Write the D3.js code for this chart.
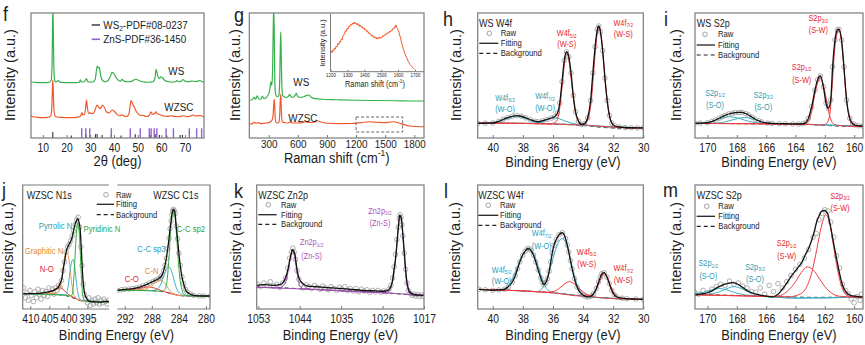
<!DOCTYPE html>
<html><head><meta charset="utf-8">
<script src="https://cdn.jsdelivr.net/npm/d3@7"></script>
<style>html,body{margin:0;padding:0;background:#fff}svg{display:block}</style>
</head><body><svg id="c" width="865" height="345"></svg>
<script>
// ---------------- DATA ----------------
// (f) XRD, x = 2theta (deg), y = intensity (a.u., 0-100 of frame)
const fTicks = [10,20,30,40,50,60,70];
const xrdWS = [[5,45],[7,44.5],[9,44.3],[11,44.3],[12.5,44.5],[13.5,46],[13.9,60],[14.1,90],[14.25,104],[14.4,90],[14.6,60],[15,46],[15.5,44.8],[16.6,46],[17.2,44.6],[18,44.5],[20,44.3],[22,44.3],[24,44.3],[25.4,44.6],[25.8,46.5],[26.3,44.8],[27.5,45],[28.4,47.5],[29,45],[30,44.7],[31,44.8],[32.1,47],[32.6,54],[32.95,57.8],[33.4,56],[33.8,56.5],[34.5,49],[35.5,45.5],[36.5,45],[37.5,46],[38.4,49],[39.2,52.5],[40.2,51],[41,48],[42,46],[42.8,45.5],[43.4,47],[44.2,45.5],[46,45],[47.5,45.3],[48.5,46.5],[49.3,47],[50.5,46],[52,45],[54,44.6],[55.5,44.8],[56.5,45],[57.3,48],[57.8,55],[58.4,50],[59.1,47.5],[59.9,49],[60.6,48],[61.5,46],[63,45],[64.5,44.7],[66,45],[66.6,46],[67.3,45],[68.3,45.3],[69.1,46.8],[70,45.5],[71.5,45],[73,45.6],[74,45.2],[75.5,45.5],[76.3,46],[77.2,45],[78,44.8]];
const xrdWZSC = [[5,17.6],[6,17],[8,16.5],[10,16.3],[12,16.5],[13.3,17.5],[13.8,25],[14.05,40],[14.2,46.4],[14.4,38],[14.7,22],[15.2,17.5],[16,16.8],[18,16.5],[20,16.3],[22,16.3],[24,16.5],[25.5,17],[26.1,18.5],[26.5,20.3],[26.9,18.5],[27.6,19],[28.1,25],[28.4,30.4],[28.8,24],[29.4,19.5],[30,20.3],[30.6,19.5],[31.5,20],[32.3,24],[32.9,26.4],[33.6,24.5],[34.3,23.5],[35.1,26.4],[35.8,25],[36.8,21],[38,20],[39.2,22.4],[40.3,21],[41.5,18.5],[42.5,17.8],[43.4,18.5],[44.3,17.5],[45.5,17.3],[46.3,19],[46.8,25],[47.2,29.9],[47.7,28],[48.5,25],[49.5,21],[50.5,18.8],[51.5,18],[52.3,18.2],[53.5,17.2],[54.5,17.3],[55.1,19],[55.6,21],[56.2,19],[57,19.3],[57.7,21],[58.3,19.5],[59.3,18.8],[60,18.4],[61,17.6],[62.5,17.3],[64,17.8],[65.5,17.3],[67,17],[68.5,17.5],[69.5,17.8],[71,17],[72.5,17.8],[73.5,18.4],[74.5,17.6],[75.5,17.8],[76.5,18],[77.5,17.2],[78,16.8]];
// reference stick patterns [2theta, height]
const pdfWS2 = [[14.2,4.8],[22,2],[28.2,3],[32.2,3],[32.9,3.2],[35,2.4],[38.9,3.2],[43,2],[49,3],[55.3,2.4],[57.4,3.2],[59.2,2.4],[62.3,2],[67.9,2.4],[68.9,2.4]];
const pdfZnS = [[26.4,7.8],[28.1,7.8],[29.8,7.8],[38.9,7.8],[46.9,7.8],[51.1,7.8],[54.9,7.8],[55.7,7.8],[57,7.8],[58.1,7.8],[62,7.8],[65.1,7.8],[71.8,7.8],[74.9,7.8],[77,7.8]];

// (g) Raman, x = Raman shift (cm-1)
const gTicks = [300,600,900,1200,1500,1800];
const ramanWS = [[100,30.4],[130,30.6],[150,32.5],[165,31],[180,33.8],[200,31.2],[220,31],[235,33.5],[250,31.5],[270,32],[290,34],[310,38],[322,45],[332,42],[340,55],[346,85],[351,104],[356,90],[361,55],[367,38],[375,34],[390,33],[405,34],[413,45],[419,70],[424,85],[428,72],[434,45],[444,34],[460,33],[480,32.5],[500,33],[515,35],[530,33],[550,32.5],[570,34],[585,35.7],[600,33],[630,32.5],[660,33],[690,34],[712,34.4],[740,32.5],[780,31.5],[850,31],[1000,30.6],[1200,30.2],[1400,30],[1600,29.8],[1800,29.6],[1900,29.6]];
const ramanWZSC = [[100,11.2],[130,11.5],[150,12.5],[170,11.8],[190,12.3],[220,11.5],[250,11.8],[280,12],[300,12.3],[320,13],[335,14.5],[345,18],[351,26],[357,31],[362,25],[368,15],[375,12.5],[390,12],[405,12.5],[413,18],[419,30],[424,35],[428,28],[434,16],[442,12.8],[470,12.2],[500,12],[520,12.8],[550,12],[600,12],[650,12.3],[680,13],[710,12.5],[760,12.4],[800,13.8],[830,13],[880,12],[950,11.6],[1050,11.5],[1150,11.6],[1250,12.3],[1340,13],[1420,12.6],[1480,12.3],[1540,12.6],[1590,13],[1640,12],[1700,10.5],[1750,9.6],[1820,9.2],[1900,9]];
const insetTicks = [1200,1300,1400,1500,1600,1700];
const ramanInset = [[1200,31.8],[1204,36],[1208,33],[1213,37.5],[1218,35.5],[1223,41],[1228,39],[1233,44],[1238,42.5],[1244,49],[1249,47],[1254,52],[1259,51],[1264,57],[1269,55.5],[1274,62],[1279,64],[1284,67],[1289,71],[1294,70],[1299,75.5],[1304,74],[1309,79],[1314,78],[1319,82],[1324,80.5],[1329,84],[1334,82],[1339,86],[1344,83],[1349,85],[1354,81.5],[1359,84],[1364,80],[1369,82],[1374,78.5],[1379,80.5],[1384,76.5],[1389,78],[1394,74],[1399,76],[1404,72],[1409,73.5],[1414,69.5],[1419,71],[1424,67],[1429,68],[1434,64.5],[1439,65],[1444,61.5],[1449,63],[1454,59.5],[1459,61],[1464,58],[1469,60],[1474,56.5],[1479,59],[1484,57],[1489,60.5],[1494,57.5],[1499,60],[1504,59],[1509,62.5],[1514,61],[1519,64],[1524,63],[1529,66],[1534,65],[1539,68],[1544,66.5],[1549,70],[1554,68.5],[1559,72],[1564,71],[1569,75],[1574,74],[1579,78],[1583,76.5],[1587,81],[1591,77],[1596,75],[1601,71.5],[1606,68],[1611,62],[1616,56],[1621,50],[1626,45],[1631,39],[1636,35],[1641,31],[1646,27],[1651,24],[1656,20],[1661,17.5],[1666,15],[1671,12.5],[1676,11],[1681,9],[1686,7],[1691,5.5],[1696,4]];

// (h) WS W4f, x = binding energy (eV)
const w4fTicks = [40,38,36,34,32,30];
const hFit = [[41,11.7],[40.5,11.8],[40,12],[39.6,13.3],[39.3,15],[39,16.3],[38.7,17.3],[38.4,17.9],[38.1,17.4],[37.8,16.1],[37.5,14.6],[37.2,13.4],[37,13],[36.7,13.8],[36.4,14.9],[36.1,16],[35.9,17],[35.7,20],[35.55,28],[35.4,45],[35.25,62],[35.1,69],[34.95,65],[34.8,52],[34.65,34],[34.5,21],[34.3,13.5],[34.1,10.8],[33.9,11.5],[33.7,16],[33.5,30],[33.35,52],[33.2,73],[33.05,87],[32.95,89.6],[32.85,85],[32.7,70],[32.55,48],[32.4,30],[32.25,18],[32.1,12],[31.9,9.6],[31.6,8.8],[31.2,8.4],[30.8,8.2],[30.4,8.1],[30,8.1]];
const hBg = [[41,12],[39,11.8],[37,11.5],[36,11.2],[35,10.8],[34.5,10.4],[34,10],[33.5,9.5],[33,8.8],[32.5,8.3],[32,8],[31,7.9],[30,7.9]];
const hWS52 = [[41,12],[38,11.7],[36.2,11.3],[35.8,13],[35.6,20],[35.4,40],[35.25,58],[35.1,68],[34.95,63],[34.8,48],[34.65,32],[34.5,20],[34.3,13],[34,10.8],[33,9.5],[31,8.2],[30,8]];
const hWS72 = [[41,12],[36,11.2],[34.2,10.4],[33.8,12.5],[33.6,18],[33.45,30],[33.3,52],[33.15,74],[33.0,87],[32.9,88],[32.75,76],[32.6,56],[32.45,36],[32.3,21],[32.1,12.5],[31.8,9.2],[31,8.1],[30,8]];
const hWO52 = [[41,12],[40.3,12.2],[39.8,12.8],[39.3,14.3],[38.9,16.2],[38.45,17.4],[38.0,16.3],[37.5,14],[37.0,12.3],[36.3,11.5],[35,11],[33,9.6],[30,8]];
const hWO72 = [[41,12],[38,11.8],[37.2,11.8],[36.8,12.6],[36.4,14.5],[36.0,16.3],[35.6,15.5],[35.2,13.6],[34.8,12],[34.4,11],[33.5,9.8],[31,8.2],[30,8]];

// (i) WS S2p
const s2pTicks = [170,168,166,164,162,160];
const iFit = [[170.85,11.7],[170.5,11.9],[170,12.2],[169.7,13.2],[169.46,14.4],[169.2,15.8],[169,17],[168.8,18.1],[168.55,19.2],[168.3,19.9],[168.1,20.3],[167.85,20.5],[167.65,20.5],[167.4,19.6],[167.2,18.4],[166.95,16.6],[166.74,15],[166.5,13.7],[166.3,12.8],[165.9,12],[165.6,11.7],[165.1,11.5],[164.7,11.4],[164.2,11.3],[163.8,11.2],[163.5,11.4],[163.3,12.3],[163.12,15.7],[162.9,25],[162.67,38.4],[162.5,46.5],[162.3,49.6],[162.1,41],[161.92,27.8],[161.76,23.7],[161.6,30.4],[161.47,57],[161.31,78.4],[161.15,86.4],[161.04,87],[160.86,78.4],[160.7,57],[160.52,30.4],[160.3,15.7],[160.1,11.5],[159.95,10.4],[159.7,9.8],[159.4,9.6]];
const iBg = [[170.85,11.7],[168,11.5],[165,11.2],[163.5,11],[162.5,10.4],[161.7,9.9],[161,9.5],[160,9.2],[159.4,9.2]];
const iSW12 = [[170.85,11.7],[165,11.2],[163.5,11],[163.1,13.5],[162.9,21],[162.7,34],[162.5,44],[162.3,48],[162.1,42],[161.9,31],[161.7,19],[161.5,12.5],[161.2,10.2],[160.5,9.5],[159.4,9.2]];
const iSW32 = [[170.85,11.7],[163,10.8],[162.1,10.3],[161.85,12],[161.65,20],[161.5,42],[161.35,68],[161.2,82],[161.05,86],[160.9,80],[160.75,63],[160.6,41],[160.45,24],[160.3,14.5],[160.1,10.5],[159.8,9.5],[159.4,9.2]];
const iSO12 = [[170.85,11.8],[170.5,12],[169.8,13],[169.2,15.2],[168.7,16.7],[168.4,17],[168,16.2],[167.5,14.4],[167,12.8],[166.4,11.8],[165.5,11.4],[163,10.8],[159.4,9.3]];
const iSO32 = [[170.85,11.7],[169.3,12],[168.6,13.5],[168,15.4],[167.5,16.4],[167,15.6],[166.6,14],[166.1,12.3],[165.5,11.5],[163,10.9],[159.4,9.3]];

// (j) WZSC N1s and C1s
const n1sTicks = [410,405,400,395];
const c1sTicks = [292,288,284,280];
const n1sRaw = [[411.8,17],[411.3,9],[410.9,13],[410.5,7],[410.1,15],[409.7,11],[409.2,6],[408.8,14],[408.4,9],[408,16],[407.6,12],[407.2,8],[406.8,15],[406.3,11],[405.9,14],[405.5,10],[405.1,17],[404.6,13],[404.2,16],[403.8,12],[403.4,17],[403,15],[402.6,19],[402.2,18],[401.8,23],[401.4,31],[401,38],[400.6,46],[400.2,50],[399.8,52],[399.4,55],[399,59],[398.6,63],[398.2,68],[397.8,72],[397.4,74],[397,66],[396.7,50],[396.4,35],[396.1,20],[395.8,12],[395.4,8],[395,5],[394.6,9],[394.2,3],[393.8,7],[393.4,4],[393,8],[392.6,5],[392.2,9],[391.8,4],[391.4,7],[391,5],[390.6,8],[390.2,6],[389.8,4],[389.4,7]];
const n1sFit = [[411.9,12.4],[410,12.4],[408,12.6],[406.5,13.2],[405,14],[403.9,15],[403,16.5],[402.6,17.7],[402.1,21],[401.7,24.5],[401.3,33],[401,37.9],[400.7,44],[400.4,48.1],[400,51],[399.7,52.7],[399.4,54.5],[399.1,56.7],[398.8,60.5],[398.5,64.8],[398.1,69.5],[397.8,71.5],[397.5,72.8],[397.2,70],[396.9,64.8],[396.7,55],[396.5,43.3],[396.3,31],[396.1,21.8],[395.8,14],[395.4,9.7],[394.9,7.2],[394.3,6.2],[393,5.8],[391.7,5.6],[390.5,5.9],[389.3,6.2]];
const n1sBg = [[411.9,12.3],[406,12.2],[403,11.8],[401,11],[399.5,9.8],[398,8],[396.5,6.5],[395,5.9],[389.3,5.9]];
const n1sNO = [[411.9,12.3],[406,12.6],[404.5,14],[403.5,15.8],[402.6,17.3],[401.8,16.8],[401,14.8],[400.2,12.3],[399.5,10.8],[398.5,9.2],[396.5,6.7],[389.3,5.9]];
const n1sGraph = [[411.9,12.3],[404,12.3],[403,13],[402.3,16],[401.7,25],[401.2,37],[400.8,44],[400.4,46],[400,43],[399.6,35],[399.2,23],[398.7,13.5],[398.2,9.5],[397.5,8],[395,6],[389.3,5.9]];
const n1sPyrr = [[411.9,12.3],[402,11.6],[400.6,11.5],[400.1,17],[399.7,27],[399.2,37],[398.8,40],[398.4,36],[398,25],[397.6,15],[397.2,9.5],[396.5,7],[389.3,5.9]];
const n1sPyri = [[411.9,12.3],[401,11],[399.2,10.5],[398.8,15],[398.45,30],[398.1,50],[397.8,64],[397.5,69.5],[397.2,64],[396.9,48],[396.6,28],[396.3,14],[395.9,7.5],[395,6],[389.3,5.9]];
const c1sFit = [[293.1,15],[292.5,15.5],[292,15.9],[291.4,16.1],[290.8,16.4],[290.3,17],[289.8,17.7],[289.3,18.6],[288.8,19.6],[288.3,21],[287.8,22.3],[287.4,23.3],[287,24.4],[286.7,25.8],[286.5,27.2],[286.25,31],[286.05,35.2],[285.85,41],[285.65,48.6],[285.45,57],[285.3,64.8],[285.15,71],[285.05,75.6],[284.92,79],[284.8,80.4],[284.68,79.5],[284.56,76.9],[284.4,67],[284.2,56.7],[284,45],[283.8,35.2],[283.55,26],[283.3,20.4],[283.05,16],[282.8,13.7],[282.3,12],[281.8,11],[281,10.6],[280.35,10.5],[279.4,10.5]];
const c1sBg = [[293.1,15],[290,15.2],[288,14.8],[286.5,14],[285.5,13],[284.8,12],[284,11],[283,10.5],[279.4,10.4]];
const c1sCO = [[293.1,15],[291,15.8],[290,16.5],[289.2,17.3],[288.6,17.8],[288,17.4],[287.2,16.2],[286.5,14.6],[285.5,12.8],[284.5,11.5],[283.5,10.7],[279.4,10.4]];
const c1sCN = [[293.1,15],[290,15.2],[289,16],[288.3,17.6],[287.7,20],[287.2,22.3],[286.75,23.2],[286.3,22],[285.8,18.6],[285.3,14.5],[284.7,12],[284,11],[279.4,10.4]];
const c1sSp3 = [[293.1,15],[288,14.9],[287.3,15.6],[286.8,18.5],[286.3,25.5],[285.9,31.5],[285.5,34],[285.1,31],[284.7,23],[284.3,16],[283.8,12.3],[283,10.7],[279.4,10.4]];
const c1sSp2 = [[293.1,15],[287.5,14.6],[286.5,14.2],[286,16.5],[285.7,25],[285.45,42],[285.2,65],[284.95,77.5],[284.78,79.5],[284.6,76],[284.35,60],[284.1,40],[283.85,25],[283.55,15.5],[283.2,11.5],[282.5,10.6],[279.4,10.4]];

// (k) WZSC Zn2p
const zn2pTicks = [1053,1044,1035,1026,1017];
const kRaw = [[1053.2,20],[1052.5,18],[1051.8,21],[1051.1,19],[1050.4,22],[1049.7,18.5],[1049,20],[1048.3,17.5],[1047.7,21],[1047.1,25],[1046.6,33],[1046.2,41],[1045.8,46],[1045.5,49],[1045.2,46],[1044.9,40],[1044.6,31],[1044.2,24],[1043.8,20],[1043.2,17],[1042.6,19.5],[1042,18],[1041.4,16.5],[1040.8,19],[1040.2,17.5],[1039.6,16],[1039,18.5],[1038.4,17],[1037.8,15.5],[1037.2,18],[1036.6,16.5],[1036,15],[1035.4,17.5],[1034.8,16],[1034.2,18],[1033.6,15],[1033,16.5],[1032.4,14.5],[1031.8,16.5],[1031.2,14],[1030.6,16],[1030,14.5],[1029.4,15.5],[1028.8,13.5],[1028.2,15],[1027.6,13.8],[1027,15],[1026.4,13.5],[1025.8,14.5],[1025.2,14],[1024.6,16],[1024.2,19],[1023.8,25],[1023.5,34],[1023.2,44],[1022.9,56],[1022.6,66],[1022.4,73],[1022.2,76],[1022,74],[1021.8,68],[1021.6,59],[1021.3,45],[1021,32],[1020.7,21],[1020.4,15],[1020,12.5],[1019.6,11],[1019.2,12],[1018.8,10.5],[1018.4,11.5],[1018,10],[1017.6,11.5],[1017.2,10.2]];
const kFit = [[1053.35,19.1],[1052.5,19.4],[1051.6,19.6],[1050.5,19.3],[1049.4,19.1],[1048.5,19.6],[1047.9,20.4],[1047.4,22.5],[1046.9,27.2],[1046.5,33],[1046.1,40.6],[1045.8,45.5],[1045.6,48.1],[1045.3,46.5],[1045,43.3],[1044.75,36],[1044.5,29.8],[1044.1,24.5],[1043.7,21.8],[1043,19.5],[1042.2,18.5],[1040.8,18.1],[1039.3,17.7],[1037,17],[1034.9,16.4],[1032.8,15.8],[1030.6,15.1],[1028.4,14.7],[1026.2,14.3],[1025.3,14.5],[1024.8,15.1],[1024.3,17.5],[1023.9,21.8],[1023.5,32],[1023.1,43.3],[1022.85,54],[1022.6,64.8],[1022.45,71],[1022.3,75.6],[1022.1,74.8],[1021.9,72.8],[1021.65,63],[1021.4,51.4],[1021.1,37],[1020.8,24.4],[1020.45,17],[1020.1,13.7],[1019.5,12.2],[1019,11.5],[1018,11.2],[1017,11]];
const kBg = [[1053.35,17.6],[1046,16.8],[1044,16.3],[1040,15.6],[1035,14.8],[1030,14],[1025,13],[1022,12],[1020,11.5],[1017,11]];
const kZn12 = [[1053.35,17.6],[1048.5,17],[1047.5,19],[1047,22],[1046.5,31],[1046,42],[1045.6,47],[1045.2,44],[1044.8,35],[1044.4,25],[1044,19],[1043.3,16.6],[1040,15.6],[1030,14],[1017,11]];
const kZn32 = [[1053.35,17.6],[1040,15.6],[1026,13.2],[1024.8,13.8],[1024.2,17],[1023.6,27],[1023.1,43],[1022.7,62],[1022.4,72],[1022.15,74.5],[1021.9,71.5],[1021.6,59],[1021.2,38],[1020.8,22],[1020.4,14.5],[1020,12],[1019,11.3],[1017,11]];

// (l) WZSC W4f
const lFit = [[40.92,15.9],[40.5,15.5],[40,15.1],[39.6,15.4],[39.23,15.9],[38.95,18.2],[38.7,21.8],[38.5,27],[38.35,32.5],[38.2,38],[38.02,43.3],[37.85,46.5],[37.7,48.6],[37.58,48.5],[37.47,47.3],[37.3,43.5],[37.14,37.9],[36.98,31.5],[36.81,25],[36.7,21.5],[36.6,19.6],[36.48,21.3],[36.37,24.4],[36.25,30.5],[36.15,37.9],[36.05,45],[35.93,51.4],[35.78,56],[35.6,59.9],[35.38,61.5],[35.16,56.7],[35.05,51.5],[34.95,46],[34.84,39],[34.73,32.5],[34.57,24.5],[34.4,17.7],[34.2,13.5],[33.96,11],[33.8,10],[33.63,9.7],[33.46,10.5],[33.3,12.3],[33.12,16.5],[32.97,21.8],[32.86,25.5],[32.75,28.5],[32.6,29.3],[32.42,25.8],[32.26,20.5],[32.1,15.1],[31.93,11.5],[31.76,9.7],[31.4,8.7],[31.1,8.3],[30.5,8],[30,7.8]];
const lBg = [[40.92,15.8],[39.5,15.4],[38,14.6],[37,14],[36,13],[35,11.8],[34,10.4],[33,9.3],[32,8.5],[31,8],[30,7.8]];
const lWO52 = [[40.92,15.8],[40,15.5],[39.5,15.5],[39.1,17.5],[38.75,23],[38.4,33],[38.1,42],[37.85,47],[37.6,48.3],[37.35,46],[37.1,39],[36.85,29],[36.6,20.5],[36.35,15.5],[36,13.3],[35,11.8],[33,9.3],[30,7.8]];
const lWO72 = [[40.92,15.8],[38,14.6],[37.1,14],[36.8,15.5],[36.5,21],[36.2,32],[35.9,45],[35.6,54.5],[35.35,57],[35.1,52],[34.85,41],[34.6,28],[34.35,18],[34.1,12.5],[33.8,10.3],[33,9.3],[30,7.8]];
const lWS52 = [[40.92,15.8],[38,14.6],[36.5,13.5],[36,14],[35.6,16.5],[35.2,20.5],[34.9,22],[34.6,20.5],[34.2,16],[33.8,12],[33.4,10],[32.8,9],[31,8],[30,7.8]];
const lWS72 = [[40.92,15.8],[36,13],[34,10.4],[33.6,10.6],[33.3,12.5],[33.05,17.5],[32.82,24.5],[32.6,28.8],[32.38,25.5],[32.15,18],[31.9,12],[31.6,9.2],[31,8],[30,7.8]];

// (m) WZSC S2p
const mRaw = [[170.9,14],[170.6,12],[170.3,15],[170,13],[169.7,16],[169.4,18],[169.1,20],[168.8,19],[168.5,22.5],[168.2,20],[167.9,21],[167.6,18.5],[167.3,17],[167,14],[166.7,13.5],[166.4,17],[166.1,12],[165.8,19],[165.5,14],[165.2,20.5],[164.9,17],[164.6,22],[164.3,27],[164,32],[163.7,36],[163.4,41],[163.1,48],[162.8,58],[162.6,61],[162.4,72],[162.2,77],[162,80],[161.8,79],[161.6,70],[161.4,58],[161.2,43],[161,33],[160.8,20],[160.6,15],[160.4,12],[160.2,8],[160,5],[159.8,10],[159.6,7],[159.5,12]];
const mFit = [[170.85,11.5],[170.4,12.2],[170,13.1],[169.7,14.6],[169.46,16.4],[169.2,18],[168.9,19.6],[168.6,20.6],[168.33,21.2],[168.1,20.8],[167.87,19.6],[167.65,17.8],[167.42,15.9],[167.2,14.3],[166.97,13.1],[166.6,11.8],[166.3,11],[165.9,10.2],[165.6,9.7],[165.38,10.5],[165.16,12.3],[164.93,15.5],[164.7,19.1],[164.45,23.5],[164.25,27.2],[164,30.8],[163.8,33.9],[163.55,38],[163.35,43.3],[163.1,49],[162.9,55.4],[162.73,62],[162.56,70.2],[162.38,75.5],[162.22,78.8],[162.04,79.6],[161.81,76.9],[161.68,70.5],[161.54,62.1],[161.37,51],[161.2,40.6],[161.03,30.5],[160.86,21.8],[160.7,16.5],[160.52,13.1],[160.3,11.3],[160.07,10.5],[159.7,9.9],[159.4,9.7]];
const mBg = [[170.85,11.5],[169,11.2],[167,10.6],[165.5,10],[164,9.6],[162.5,9.4],[161,9.5],[159.4,9.6]];
const mSW32 = [[170.85,11.5],[166,10.1],[164.5,9.8],[163.8,11.5],[163.3,16.5],[162.9,29],[162.55,48],[162.25,66],[161.95,76],[161.7,71],[161.45,54],[161.2,36],[160.95,22],[160.7,14],[160.4,10.5],[160,9.6],[159.4,9.6]];
const mSW12 = [[170.85,11.5],[167,10.5],[165.4,10.2],[165,11],[164.5,15],[164,22],[163.6,29.5],[163.2,34],[162.8,31.5],[162.4,25],[162,18],[161.5,12.5],[161,10.3],[160,9.6],[159.4,9.6]];
const mSO12 = [[170.85,12.3],[170.3,13.4],[169.7,15.5],[169.2,16.5],[168.7,15.5],[168.2,13.5],[167.5,11.5],[167,10.8],[165.5,9.6],[164,8.8],[162,9],[160.5,9.3],[159.4,9.5]];
const mSO32 = [[170.85,11.6],[170,12],[169.3,13.4],[168.7,16.3],[168.2,18],[167.7,16.5],[167.2,13.5],[166.6,11.3],[166,10.3],[165,9.3],[164,8.8],[162,9],[160.5,9.3],[159.4,9.5]];

// ---------------- STYLE ----------------
const SX = 0.86;
const FONT = "'Liberation Sans', Arial, Helvetica, sans-serif";
const C = {green:'#35b14b', orange:'#f2572b', purple:'#9363cc', red:'#ee3b3f', teal:'#41aec4',
  lOrange:'#ee9a45', lGreen:'#3aae3e', zn:'#a34db5', raw:'#9a9a9a', frame:'#7b7b7b', text:'#1c1c1c',
  tRed:'#e8262d', tTeal:'#2b9db5', tOrange:'#e48a2a', tGreen:'#2fa33a', tZn:'#b050bb'};
const TOP = [13,138], BOT = [185,309];
const svg = d3.select('#c');
const defs = svg.append('defs');

function label(parent, x, y, parts, o = {}) {
  const size = o.size || 8.5, anchor = o.anchor || 'middle';
  const t = parent.append('text')
    .attr('transform', o.rotate ? `translate(${x},${y}) rotate(-90)` : `translate(${x},${y}) scale(${o.sx || SX},1)`)
    .attr('font-family', FONT).attr('font-size', size).attr('fill', o.color || C.text).attr('text-anchor', anchor);
  if (typeof parts === 'string') parts = [[parts]];
  let shift = 0;
  parts.forEach(([s, k]) => {
    const sp = t.append('tspan').text(s);
    let target = 0;
    if (k === 'sub') { sp.attr('font-size', size * 0.66); target = size * 0.2; }
    else if (k === 'sup') { sp.attr('font-size', size * 0.66); target = -size * 0.42; }
    if (target !== shift) { sp.attr('dy', target - shift); shift = target; }
  });
  return t;
}

let clipN = 0;
function panel(x0, x1, yr, dom) {
  const g = svg.append('g');
  const x = d3.scaleLinear().domain(dom).range([x0, x1]);
  const y = d3.scaleLinear().domain([0, 100]).range([yr[1], yr[0]]);
  const id = 'cp' + (clipN++);
  defs.append('clipPath').attr('id', id).append('rect')
    .attr('x', x0).attr('y', yr[0]).attr('width', x1 - x0).attr('height', yr[1] - yr[0]);
  const plot = g.append('g').attr('clip-path', `url(#${id})`);
  return {g, x, y, plot, x0, x1, y0: yr[0], y1: yr[1]};
}
function frame(p) {
  p.g.append('rect').attr('x', p.x0).attr('y', p.y0).attr('width', p.x1 - p.x0).attr('height', p.y1 - p.y0)
    .attr('fill', 'none').attr('stroke', C.frame).attr('stroke-width', 1.2);
}
function line(p, data, color, w, dash) {
  p.plot.append('path').datum(data).attr('fill', 'none').attr('stroke', color).attr('stroke-width', w)
    .attr('stroke-dasharray', dash || null).attr('stroke-linejoin', 'round')
    .attr('d', d3.line().x(d => p.x(d[0])).y(d => p.y(d[1])).curve(d3.curveMonotoneX));
}
function raw(p, data) {
  p.plot.selectAll(null).data(data).join('circle')
    .attr('cx', d => p.x(d[0])).attr('cy', d => p.y(d[1])).attr('r', 2.3)
    .attr('fill', 'none').attr('stroke', C.raw).attr('stroke-width', 0.8);
}
function sticks(p, data, color, w) {
  p.plot.selectAll(null).data(data).join('line')
    .attr('x1', d => p.x(d[0])).attr('x2', d => p.x(d[0]))
    .attr('y1', p.y(0)).attr('y2', d => p.y(d[1])).attr('stroke', color).attr('stroke-width', w);
}
function xAxis(p, ticks, size, pad, tick) {
  const ax = p.g.append('g').attr('transform', `translate(0,${p.y1})`)
    .call(d3.axisBottom(p.x).tickValues(ticks).tickSizeInner(-(tick || 3)).tickSizeOuter(0).tickPadding(pad).tickFormat(d3.format('d')));
  ax.select('.domain').remove();
  ax.selectAll('line').attr('stroke', C.frame).attr('stroke-width', 1);
  ax.selectAll('text').attr('font-family', FONT).attr('font-size', size).attr('fill', C.text).attr('transform', `scale(${SX},1)`);
  return ax;
}
function legend(p, cx, cy, ly, by, lx0, lx1, tx) {
  p.g.append('circle').attr('cx', cx).attr('cy', cy).attr('r', 2.3).attr('fill', 'none').attr('stroke', C.raw).attr('stroke-width', 0.9);
  p.g.append('line').attr('x1', lx0).attr('x2', lx1).attr('y1', ly).attr('y2', ly).attr('stroke', '#222').attr('stroke-width', 1.3);
  p.g.append('line').attr('x1', lx0).attr('x2', lx1).attr('y1', by).attr('y2', by).attr('stroke', '#222').attr('stroke-width', 1.2).attr('stroke-dasharray', '4,3');
  label(p.g, tx, cy + 3, 'Raw', {size: 9, anchor: 'start'});
  label(p.g, tx, ly + 3, 'Fitting', {size: 9, anchor: 'start'});
  label(p.g, tx, by + 3, 'Background', {size: 9, anchor: 'start'});
}
function xps(p, fitData, bgData, comps, rawData) {
  raw(p, rawData || fitData);
  line(p, bgData, '#333', 1, '4,3');
  comps.forEach(([d, c]) => line(p, d, c, 1));
  line(p, fitData, '#111', 1.3);
}
function ytitle(g, x, y) { label(g, x, y, 'Intensity (a.u.)', {size: 14.5, rotate: true}); }
function letter(x, y, s) { label(svg, x, y, s, {size: 20, anchor: 'start', sx: 0.9}); }

// ---------------- (f) XRD ----------------
{
  const p = panel(31, 204, TOP, [5, 78]);
  sticks(p, pdfWS2, '#333', 1.1);
  sticks(p, pdfZnS, C.purple, 1.4);
  line(p, xrdWS, C.green, 1.2);
  line(p, xrdWZSC, C.orange, 1.2);
  frame(p);
  xAxis(p, fTicks, 12, 5.5);
  label(p.g, 117.5, 166, [['2θ (deg)']], {size: 15});
  ytitle(p.g, 15, 75);
  p.g.append('line').attr('x1', 91.7).attr('x2', 100).attr('y1', 25).attr('y2', 25).attr('stroke', '#222').attr('stroke-width', 1.3);
  p.g.append('line').attr('x1', 91.7).attr('x2', 100).attr('y1', 39.3).attr('y2', 39.3).attr('stroke', C.purple).attr('stroke-width', 1.6);
  label(p.g, 103.3, 29, [['WS'], ['2', 'sub'], ['-PDF#08-0237']], {size: 11.5, anchor: 'start'});
  label(p.g, 103.3, 43.3, 'ZnS-PDF#36-1450', {size: 11.5, anchor: 'start'});
  label(p.g, 168.3, 75, 'WS', {size: 11.5, anchor: 'start'});
  label(p.g, 164.3, 111, 'WZSC', {size: 11.5, anchor: 'start'});
  letter(3, 21, 'f');
}
// ---------------- (g) Raman ----------------
{
  const p = panel(249.3, 424, TOP, [100, 1900]);
  line(p, ramanWS, C.green, 1.2);
  line(p, ramanWZSC, C.orange, 1.2);
  p.plot.append('rect').attr('x', p.x(1200)).attr('y', p.y(16.8)).attr('width', p.x(1680) - p.x(1200)).attr('height', p.y(4.8) - p.y(16.8))
    .attr('fill', 'none').attr('stroke', '#666').attr('stroke-width', 1).attr('stroke-dasharray', '3,2');
  frame(p);
  xAxis(p, gTicks, 11.5, 1.5);
  label(p.g, 336.7, 162.5, [['Raman shift (cm'], ['-1', 'sup'], [')']], {size: 15});
  ytitle(p.g, 240, 75);
  label(p.g, 293.3, 86, 'WS', {size: 11.5, anchor: 'start'});
  label(p.g, 288.3, 122, 'WZSC', {size: 11.5, anchor: 'start'});
  // inset
  const ig = p.g.append('g');
  const ix = d3.scaleLinear().domain([1200, 1700]).range([330.5, 415]);
  const iy = d3.scaleLinear().domain([0, 100]).range([71.7, 14]);
  defs.append('clipPath').attr('id', 'cpInset').append('rect').attr('x', 330.5).attr('y', 14).attr('width', 93).attr('height', 57.7);
  ig.append('g').attr('clip-path', 'url(#cpInset)').append('path').datum(ramanInset)
    .attr('fill', 'none').attr('stroke', C.orange).attr('stroke-width', 1)
    .attr('d', d3.line().x(d => ix(d[0])).y(d => iy(d[1])));
  ig.append('path').attr('d', `M330.5,14V71.7H424`).attr('fill', 'none').attr('stroke', C.frame).attr('stroke-width', 1);
  const iax = ig.append('g').attr('transform', 'translate(0,71.7)')
    .call(d3.axisBottom(ix).tickValues(insetTicks).tickSizeInner(-2).tickSizeOuter(0).tickPadding(1.5).tickFormat(d3.format('d')));
  iax.select('.domain').remove();
  iax.selectAll('line').attr('stroke', C.frame);
  iax.selectAll('text').attr('font-family', FONT).attr('font-size', 5.5).attr('fill', C.text).attr('transform', 'scale(0.8,1)');
  label(ig, 375, 87, [['Raman shift (cm'], ['-1', 'sup'], [')']], {size: 8.5});
  label(ig, 324.5, 43, 'Intensity (a.u.)', {size: 7.5, rotate: true});
  letter(234, 22, 'g');
}
// ---------------- (h) WS W4f ----------------
{
  const p = panel(477.7, 643.3, TOP, [41, 30]);
  xps(p, hFit, hBg, [[hWO52, C.teal], [hWO72, C.teal], [hWS52, C.red], [hWS72, C.red]]);
  frame(p);
  xAxis(p, w4fTicks, 12, 5.5);
  label(p.g, 563, 167, 'Binding Energy (eV)', {size: 15});
  ytitle(p.g, 461, 75);
  label(p.g, 479, 27, 'WS W4f', {size: 10.5, anchor: 'start'});
  legend(p, 489.3, 33.3, 43.3, 53.3, 479.3, 498.3, 500.7);
  label(p.g, 566.7, 36, [['W4f'], ['5/2', 'sub']], {color: C.tRed});
  label(p.g, 566.7, 46.5, '(W-S)', {color: C.tRed});
  label(p.g, 623.3, 25.5, [['W4f'], ['7/2', 'sub']], {color: C.tRed});
  label(p.g, 623.3, 36.5, '(W-S)', {color: C.tRed});
  label(p.g, 505, 100.5, [['W4f'], ['5/2', 'sub']], {color: C.tTeal});
  label(p.g, 505, 111.5, '(W-O)', {color: C.tTeal});
  label(p.g, 545, 99, [['W4f'], ['7/2', 'sub']], {color: C.tTeal});
  label(p.g, 545, 110.5, '(W-O)', {color: C.tTeal});
  letter(443, 26, 'h');
}
// ---------------- (i) WS S2p ----------------
{
  const p = panel(695, 863, TOP, [170.85, 159.4]);
  xps(p, iFit, iBg, [[iSO12, C.teal], [iSO32, C.teal], [iSW12, C.red], [iSW32, C.red]]);
  frame(p);
  xAxis(p, s2pTicks, 12, 5.5);
  label(p.g, 779, 167, 'Binding Energy (eV)', {size: 15});
  ytitle(p.g, 681, 75);
  label(p.g, 696.7, 27, 'WS S2p', {size: 10.5, anchor: 'start'});
  legend(p, 705, 34.3, 45, 55, 696.7, 715, 718);
  label(p.g, 818.3, 21, [['S2p'], ['3/2', 'sub']], {color: C.tRed});
  label(p.g, 818.3, 32.5, '(S-W)', {color: C.tRed});
  label(p.g, 801.7, 69.5, [['S2p'], ['1/2', 'sub']], {color: C.tRed});
  label(p.g, 801.7, 82.5, '(S-W)', {color: C.tRed});
  label(p.g, 715, 95.5, [['S2p'], ['1/2', 'sub']], {color: C.tTeal});
  label(p.g, 715, 107.5, '(S-O)', {color: C.tTeal});
  label(p.g, 763.3, 97.5, [['S2p'], ['3/2', 'sub']], {color: C.tTeal});
  label(p.g, 763.3, 109.5, '(S-O)', {color: C.tTeal});
  letter(664, 26, 'i');
}
// ---------------- (j) WZSC N1s / C1s ----------------
{
  const pL = panel(22.7, 109, BOT, [412, 389.3]);
  xps(pL, n1sFit, n1sBg, [[n1sNO, C.red], [n1sGraph, C.lOrange], [n1sPyrr, C.teal], [n1sPyri, C.lGreen]], n1sRaw);
  const pR = panel(117.3, 210, BOT, [293.1, 279.4]);
  xps(pR, c1sFit, c1sBg, [[c1sCO, C.red], [c1sCN, C.lOrange], [c1sSp3, C.teal], [c1sSp2, C.lGreen]]);
  pL.g.append('path').attr('d', `M109,${BOT[0]}H22.7V${BOT[1]}H109`).attr('fill', 'none').attr('stroke', C.frame).attr('stroke-width', 1.2);
  pR.g.append('path').attr('d', `M117.3,${BOT[0]}H210V${BOT[1]}H117.3`).attr('fill', 'none').attr('stroke', C.frame).attr('stroke-width', 1.2);
  xAxis(pL, n1sTicks, 12, 5.5);
  xAxis(pR, c1sTicks, 12, 5.5);
  label(pL.g, 116.5, 339.5, 'Binding Energy (eV)', {size: 15});
  ytitle(pL.g, 13, 248);
  label(pL.g, 26.7, 199, 'WZSC N1s', {size: 10.5, anchor: 'start'});
  label(pR.g, 153.3, 199, 'WZSC C1s', {size: 10.5, anchor: 'start'});
  legend(pL, 106, 194.7, 204.3, 214.7, 96.7, 114, 116);
  label(pL.g, 55.5, 229, 'Pyrrolic N', {size: 9, color: C.tTeal});
  label(svg, 102, 232.3, 'Pyridinic N', {size: 9, color: C.tGreen});
  label(pL.g, 44, 254.3, 'Graphitic N', {size: 9, color: C.tOrange});
  label(pL.g, 46.7, 272.3, 'N-O', {size: 9, color: C.tRed});
  label(pR.g, 191, 232.3, 'C-C sp2', {size: 9, color: C.tGreen});
  label(pR.g, 151.5, 251.7, 'C-C sp3', {size: 9, color: C.tTeal});
  label(pR.g, 151.7, 274, 'C-N', {size: 9, color: C.tOrange});
  label(pR.g, 131.7, 282.3, 'C-O', {size: 9, color: C.tRed});
  letter(2, 197, 'j');
}
// ---------------- (k) WZSC Zn2p ----------------
{
  const p = panel(256.7, 424, BOT, [1053.35, 1017]);
  xps(p, kFit, kBg, [[kZn12, C.zn], [kZn32, C.zn]], kRaw);
  frame(p);
  xAxis(p, zn2pTicks, 12, 5.5);
  label(p.g, 340.4, 339.5, 'Binding Energy (eV)', {size: 15});
  ytitle(p.g, 241, 248);
  label(p.g, 258.3, 199, 'WZSC Zn2p', {size: 10.5, anchor: 'start'});
  legend(p, 268.3, 204.7, 214.7, 224.3, 258.3, 276.7, 281);
  label(p.g, 380, 213.5, [['Zn2p'], ['3/2', 'sub']], {color: C.tZn});
  label(p.g, 380, 225.5, '(Zn-S)', {color: C.tZn});
  label(p.g, 311.7, 245, [['Zn2p'], ['1/2', 'sub']], {color: C.tZn});
  label(p.g, 311.7, 259, '(Zn-S)', {color: C.tZn});
  letter(234, 198, 'k');
}
// ---------------- (l) WZSC W4f ----------------
{
  const p = panel(477.7, 643.3, BOT, [41, 30]);
  xps(p, lFit, lBg, [[lWO52, C.teal], [lWO72, C.teal], [lWS52, C.red], [lWS72, C.red]]);
  frame(p);
  xAxis(p, w4fTicks, 12, 5.5);
  label(p.g, 563, 339.5, 'Binding Energy (eV)', {size: 15});
  ytitle(p.g, 460, 248);
  label(p.g, 478.3, 199, 'WZSC W4f', {size: 10.5, anchor: 'start'});
  legend(p, 488.3, 205.3, 215.3, 225.3, 478.3, 498.3, 500);
  label(p.g, 541.7, 236, [['W4f'], ['7/2', 'sub']], {color: C.tTeal});
  label(p.g, 541.7, 248.5, '(W-O)', {color: C.tTeal});
  label(p.g, 501.7, 272.5, [['W4f'], ['5/2', 'sub']], {color: C.tTeal});
  label(p.g, 501.7, 284, '(W-O)', {color: C.tTeal});
  label(p.g, 586.7, 254.5, [['W4f'], ['5/2', 'sub']], {color: C.tRed});
  label(p.g, 586.7, 266.5, '(W-S)', {color: C.tRed});
  label(p.g, 623.3, 271, [['W4f'], ['7/2', 'sub']], {color: C.tRed});
  label(p.g, 623.3, 283, '(W-S)', {color: C.tRed});
  letter(444, 198, 'l');
}
// ---------------- (m) WZSC S2p ----------------
{
  const p = panel(695, 863, BOT, [170.85, 159.4]);
  xps(p, mFit, mBg, [[mSO12, C.teal], [mSO32, C.teal], [mSW12, C.red], [mSW32, C.red]], mRaw);
  frame(p);
  xAxis(p, s2pTicks, 12, 5.5);
  label(p.g, 779, 339.5, 'Binding Energy (eV)', {size: 15});
  ytitle(p.g, 681, 248);
  label(p.g, 696.7, 199, 'WZSC S2p', {size: 10.5, anchor: 'start'});
  legend(p, 706.7, 206.3, 216.3, 226.3, 696.7, 715, 718.3);
  label(p.g, 840, 198.5, [['S2p'], ['3/2', 'sub']], {color: C.tRed});
  label(p.g, 840, 210.5, '(S-W)', {color: C.tRed});
  label(p.g, 786.7, 246, [['S2p'], ['1/2', 'sub']], {color: C.tRed});
  label(p.g, 786.7, 259, '(S-W)', {color: C.tRed});
  label(p.g, 708.3, 266, [['S2p'], ['1/2', 'sub']], {color: C.tTeal});
  label(p.g, 708.3, 278.5, '(S-O)', {color: C.tTeal});
  label(p.g, 755, 269.5, [['S2p'], ['3/2', 'sub']], {color: C.tTeal});
  label(p.g, 755, 282, '(S-O)', {color: C.tTeal});
  letter(663, 197, 'm');
}
</script>
</body></html>
